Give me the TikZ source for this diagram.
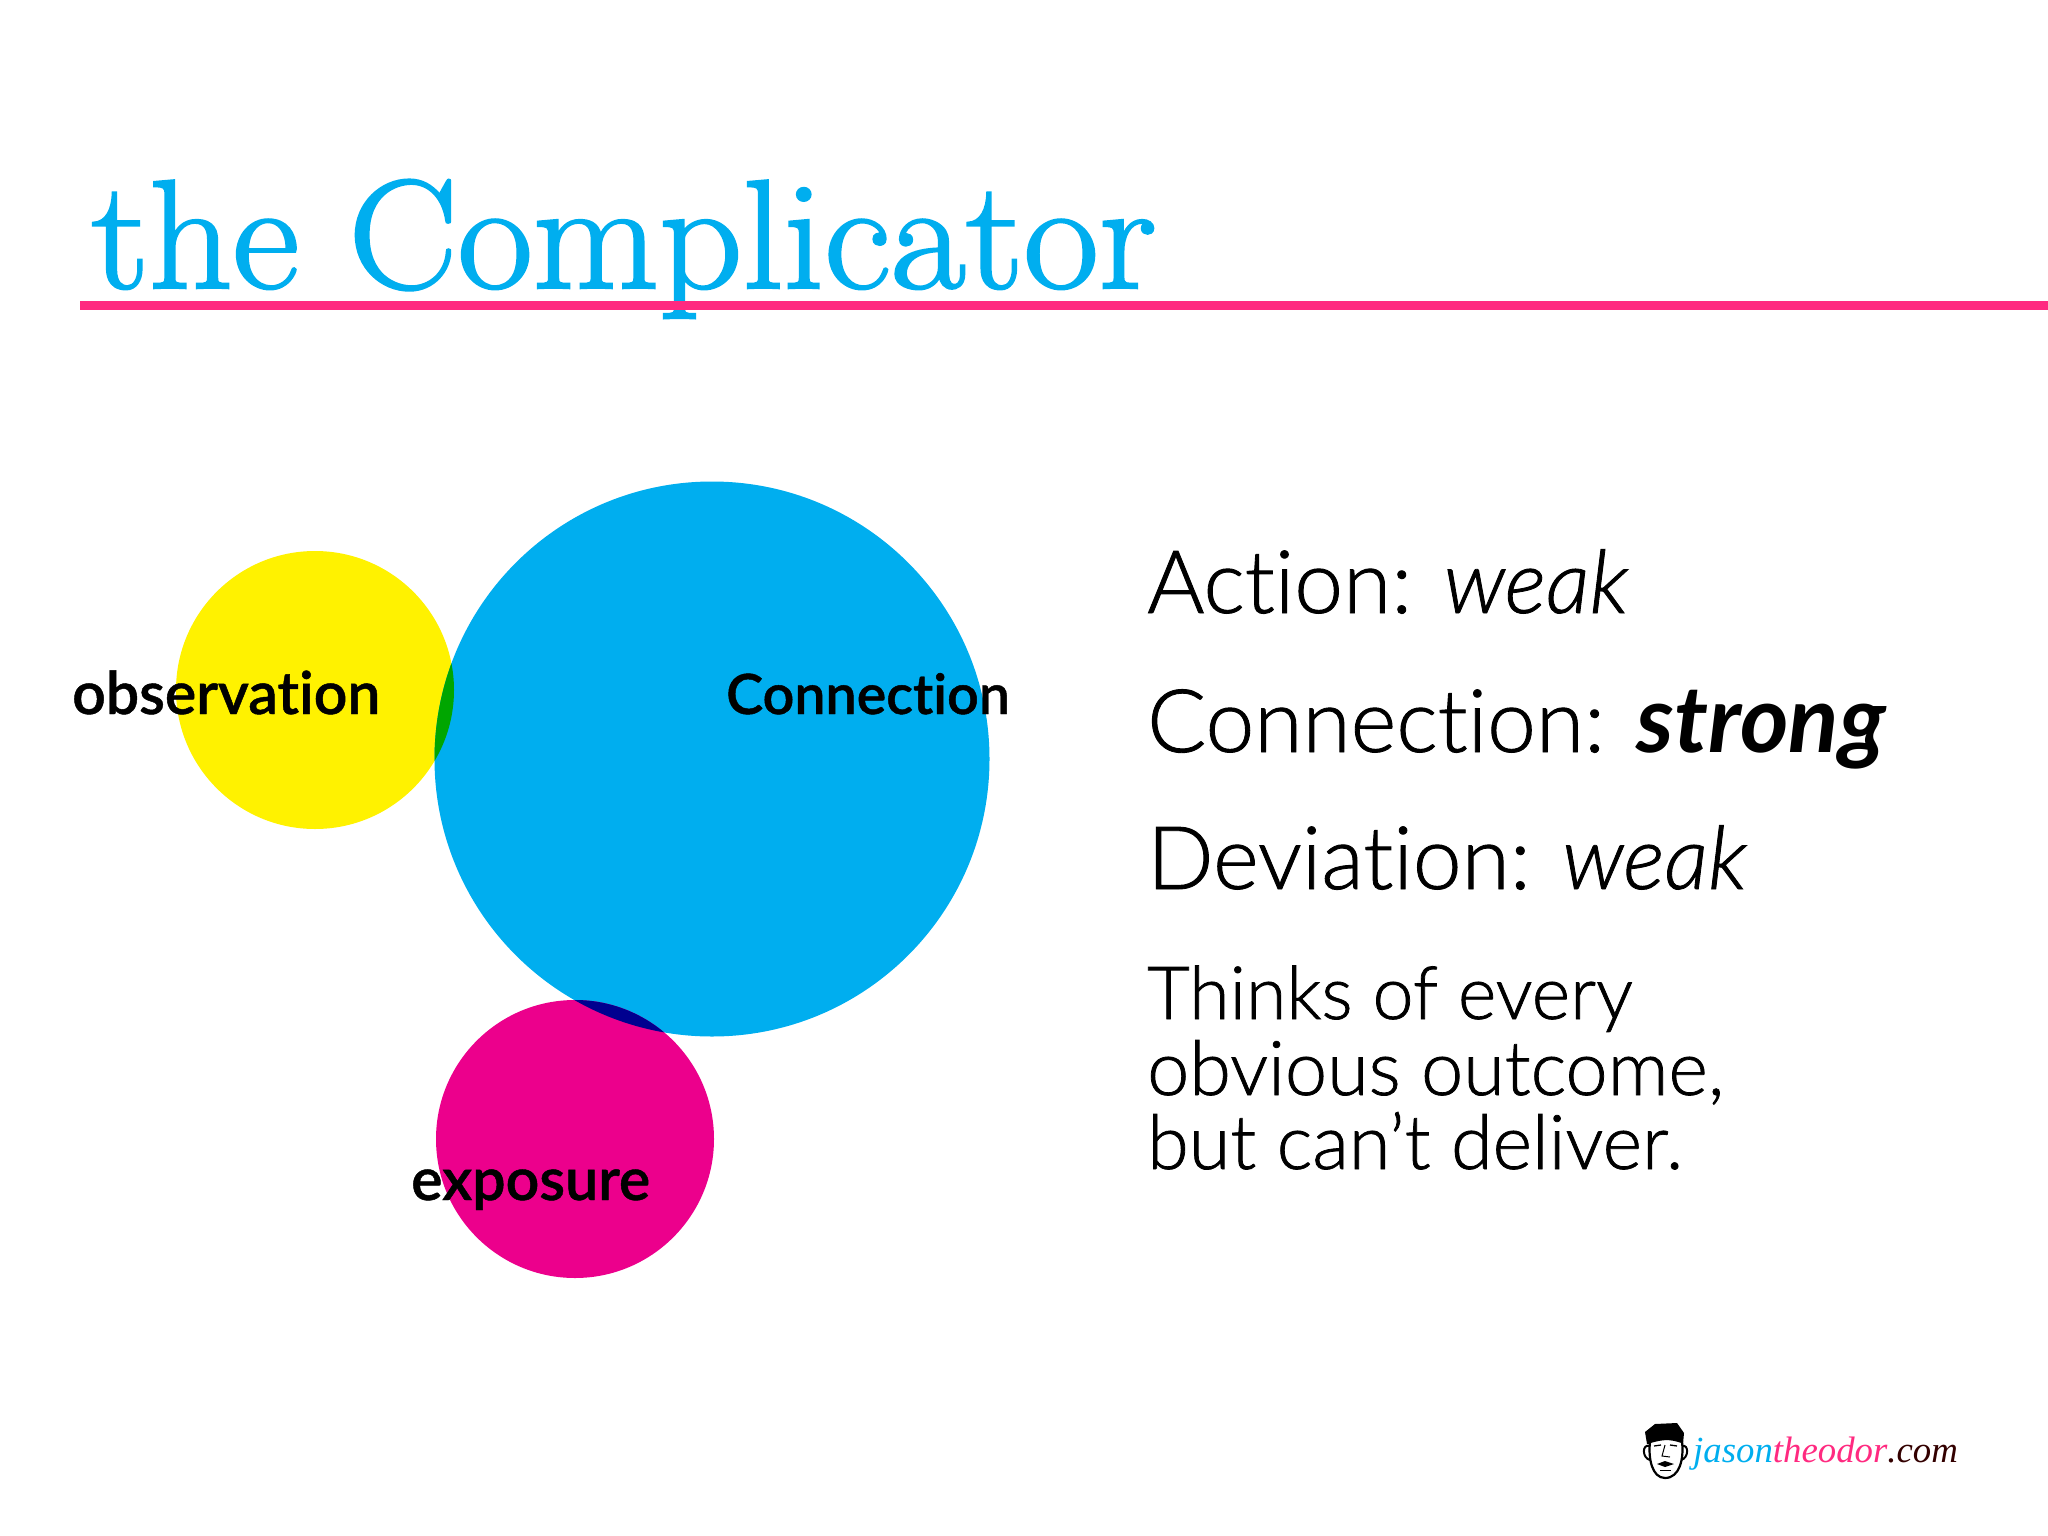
\documentclass[tikz,border=0pt]{standalone}
\usepackage{fontspec}
\usepackage{xcolor}
\setmainfont[Ligatures=NoCommon]{Lato}
\newfontfamily\lightfont[Ligatures=NoCommon,FakeBold=1]{Lato Light}
\newfontfamily\tagfont[Ligatures=NoCommon,FakeBold=0.8]{Lato Semibold}
\newfontfamily\lmfont[FakeBold=1.6,FakeStretch=1.055]{Latin Modern Roman}
\newfontfamily\footfont{Liberation Serif}
\usetikzlibrary{positioning}
\definecolor{procyan}{HTML}{00AEEF}
\definecolor{proyellow}{HTML}{FFF200}
\definecolor{promagenta}{HTML}{EC008C}
\definecolor{prorule}{HTML}{FF2A80}
\definecolor{progreen}{HTML}{00A600}
\definecolor{pronavy}{HTML}{00008F}
\tikzset{
  blob/.style={circle,inner sep=0pt,minimum size=278pt},
  tag/.style={anchor=base west,inner sep=0pt,font=\tagfont\fontsize{59}{59}\selectfont},
  rating/.style={anchor=base west,inner sep=0pt,font=\lightfont\fontsize{87.5}{87.5}\selectfont},
  remark/.style={anchor=base west,inner sep=0pt,font=\lightfont\fontsize{75.5}{75.5}\selectfont}
}
\begin{document}
\begin{tikzpicture}[x=1pt,y=-1pt]
  \useasboundingbox (0,0) rectangle (2048,1536);
  \node(title) [anchor=base west,inner sep=0pt,text=procyan,font=\lmfont\fontsize{155}{155}\selectfont] at (91,288) {the Complicator};
  \coordinate(rulestart) at (80,305.5);
  \coordinate(ruleend) at (2048,305.5);
  \draw[prorule,line width=8.5pt] (rulestart) -- (ruleend);

  \node(obs) [blob,fill=proyellow] at (315,690) {};
  \node(conn) [blob,fill=procyan,minimum size=555pt] at (712,759) {};
  \node(exp) [blob,fill=promagenta] at (575,1139) {};
  \begin{scope}
    \clip (315,690) circle (139);
    \fill[progreen] (712,759) circle (277.5);
  \end{scope}
  \begin{scope}
    \clip (575,1139) circle (139);
    \fill[pronavy] (712,759) circle (277.5);
  \end{scope}

  \node(obslabel) [tag] at (72,714) {observation};
  \node(connlabel) [tag,font=\tagfont\fontsize{55.6}{55.6}\selectfont] at (726,714) {Connection};
  \node(explabel) [tag] at (411,1200) {exposure};

  \node(action) [rating] at (1147,613) {Action: \textit{weak}};
  \node(connection) [rating] at (1147,752) {Connection: {\normalfont\fontsize{93}{93}\selectfont\textbf{\textit{strong}}}};
  \node(deviation) [rating] at (1147,889) {Deviation: \textit{weak}};
  \node(thinks) [remark,font=\lightfont\fontsize{73.5}{73.5}\selectfont] at (1147,1019) {Thinks of every};
  \node(obvious) [remark] at (1147,1095) {obvious outcome,};
  \node(deliver) [remark] at (1147,1169) {but can’t deliver.};

  \node(site) [anchor=base west,inner sep=0pt,font=\footfont\itshape\fontsize{36.8}{36.8}\selectfont] at (1693,1462)
    {\textcolor{procyan}{jason}\textcolor{prorule}{theodor}\textcolor{black!80!red}{.com}};

  \draw[black,line width=2pt] (1649,1446) .. controls (1642,1444) and (1642,1458) .. (1650,1460);
  \draw[black,line width=2pt] (1682,1446) .. controls (1689,1444) and (1689,1458) .. (1681,1460);
  \fill[black] (1647,1444) -- (1645,1432) -- (1655,1424) -- (1677,1423) -- (1684,1433) -- (1683,1444) -- cycle;
  \draw[black,fill=white,line width=2.2pt] (1650,1442) .. controls (1664,1438) and (1670,1438) .. (1682,1442) .. controls (1684,1458) and (1680,1478) .. (1665,1478) .. controls (1652,1478) and (1648,1458) .. (1650,1442);
  \draw[black,line width=1.3pt] (1654,1446) -- (1661,1445);
  \draw[black,line width=1.3pt] (1670,1445) -- (1677,1446);
  \draw[black,line width=1pt] (1665,1445) -- (1662,1456) -- (1670,1457);
  \fill[black] (1657,1464) -- (1665,1461) -- (1674,1464) -- (1665,1467) -- cycle;
  \draw[black,line width=1pt] (1660,1470) -- (1671,1470);
\end{tikzpicture}
\end{document}
